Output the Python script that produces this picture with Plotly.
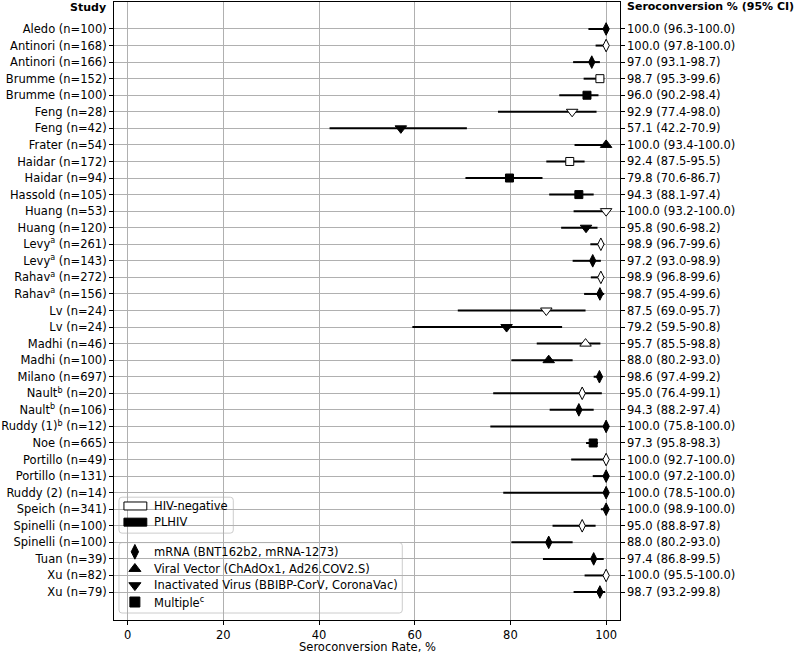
import plotly.graph_objects as go

studies = ["Aledo (n=100)", "Antinori (n=168)", "Antinori (n=166)", "Brumme (n=152)", "Brumme (n=100)",
           "Feng (n=28)", "Feng (n=42)", "Frater (n=54)", "Haidar (n=172)", "Haidar (n=94)",
           "Hassold (n=105)", "Huang (n=53)", "Huang (n=120)", "Levy<sup>a</sup> (n=261)",
           "Levy<sup>a</sup> (n=143)", "Rahav<sup>a</sup> (n=272)", "Rahav<sup>a</sup> (n=156)",
           "Lv (n=24)", "Lv (n=24)", "Madhi (n=46)", "Madhi (n=100)", "Milano (n=697)",
           "Nault<sup>b</sup> (n=20)", "Nault<sup>b</sup> (n=106)", "Ruddy (1)<sup>b</sup> (n=12)",
           "Noe (n=665)", "Portillo (n=49)", "Portillo (n=131)", "Ruddy (2) (n=14)", "Speich (n=341)",
           "Spinelli (n=100)", "Spinelli (n=100)", "Tuan (n=39)", "Xu (n=82)", "Xu (n=79)"]
rate = [100.0, 100.0, 97.0, 98.7, 96.0, 92.9, 57.1, 100.0, 92.4, 79.8, 94.3, 100.0, 95.8, 98.9, 97.2,
        98.9, 98.7, 87.5, 79.2, 95.7, 88.0, 98.6, 95.0, 94.3, 100.0, 97.3, 100.0, 100.0, 100.0, 100.0,
        95.0, 88.0, 97.4, 100.0, 98.7]
lower = [96.3, 97.8, 93.1, 95.3, 90.2, 77.4, 42.2, 93.4, 87.5, 70.6, 88.1, 93.2, 90.6, 96.7, 93.0,
         96.8, 95.4, 69.0, 59.5, 85.5, 80.2, 97.4, 76.4, 88.2, 75.8, 95.8, 92.7, 97.2, 78.5, 98.9,
         88.8, 80.2, 86.8, 95.5, 93.2]
upper = [100.0, 100.0, 98.7, 99.6, 98.4, 98.0, 70.9, 100.0, 95.5, 86.7, 97.4, 100.0, 98.2, 99.6, 98.9,
         99.6, 99.6, 95.7, 90.8, 98.8, 93.0, 99.2, 99.1, 97.4, 100.0, 98.3, 100.0, 100.0, 100.0, 100.0,
         97.8, 93.0, 99.5, 100.0, 99.8]
vaccine = ["mRNA", "mRNA", "mRNA", "Multiple", "Multiple", "Inactivated", "Inactivated", "Viral Vector",
           "Multiple", "Multiple", "Multiple", "Inactivated", "Inactivated", "mRNA", "mRNA", "mRNA", "mRNA",
           "Inactivated", "Inactivated", "Viral Vector", "Viral Vector", "mRNA", "mRNA", "mRNA", "mRNA",
           "Multiple", "mRNA", "mRNA", "mRNA", "mRNA", "mRNA", "mRNA", "mRNA", "mRNA", "mRNA"]
group = ["PLHIV", "HIV-negative", "PLHIV", "HIV-negative", "PLHIV", "HIV-negative", "PLHIV", "PLHIV",
         "HIV-negative", "PLHIV", "PLHIV", "HIV-negative", "PLHIV", "HIV-negative", "PLHIV", "HIV-negative",
         "PLHIV", "HIV-negative", "PLHIV", "HIV-negative", "PLHIV", "PLHIV", "HIV-negative", "PLHIV", "PLHIV",
         "PLHIV", "HIV-negative", "PLHIV", "PLHIV", "PLHIV", "HIV-negative", "PLHIV", "PLHIV",
         "HIV-negative", "PLHIV"]
x_ticks = [0, 20, 40, 60, 80, 100]
vaccine_labels = ["mRNA (BNT162b2, mRNA-1273)", "Viral Vector (ChAdOx1, Ad26.COV2.S)",
                  "Inactivated Virus (BBIBP-CorV, CoronaVac)", "Multiple<sup>c</sup>"]
group_labels = ["HIV-negative", "PLHIV"]

# ---- styling / layout ----
FONT = "DejaVu Sans"
W, H = 800, 654
L, R, T, B = 111, 180, 1, 34
PW, PH = W - L - R, H - T - B
sym_map = {"mRNA": "diamond-tall", "Viral Vector": "triangle-up", "Inactivated": "triangle-down",
           "Multiple": "square"}
size_map = {"mRNA": 9, "Viral Vector": 10, "Inactivated": 10, "Multiple": 8}
col_map = {"PLHIV": "black", "HIV-negative": "white"}
TXT = dict(family=FONT, size=11.5, color="black")
HDR = dict(family=FONT, size=11, color="black")


def px(x):
    return (x - L) / PW


def py(y):
    return (H - B - y) / PH


rows = list(range(len(studies)))
ci_text = [f"{r:.1f} ({lo:.1f}-{hi:.1f})" for r, lo, hi in zip(rate, lower, upper)]

fig = go.Figure()
fig.add_trace(go.Scatter(
    x=rate, y=rows, mode="markers",
    marker=dict(symbol=[sym_map[v] for v in vaccine], size=[size_map[v] for v in vaccine],
                color=[col_map[g] for g in group], opacity=1,
                line=dict(color="black", width=1)),
    error_x=dict(type="data", symmetric=False,
                 array=[u - r for u, r in zip(upper, rate)],
                 arrayminus=[r - lo for r, lo in zip(rate, lower)],
                 thickness=2, width=0, color="black"),
    showlegend=False, hoverinfo="skip"))
# right-side axis carrier (ticks only)
fig.add_trace(go.Scatter(x=[None], y=[None], yaxis="y2", showlegend=False, hoverinfo="skip"))

# legend glyphs (pixel overlay axes)
leg_y = [551.7, 568.7, 585.3, 602.0]
leg_sym = ["diamond-tall", "triangle-up", "triangle-down", "square"]
fig.add_trace(go.Scatter(x=[132] * 4, y=leg_y, xaxis="x2", yaxis="y3", mode="markers",
                         marker=dict(symbol=leg_sym, size=[10.5, 10.5, 10.5, 10], color="black",
                                     opacity=1, line=dict(color="black", width=1)),
                         showlegend=False, hoverinfo="skip"))

axis_common = dict(tickfont=TXT, tickcolor="black",
                   ticks="outside", ticklen=4, tickwidth=1, linecolor="black", linewidth=1,
                   showline=True, zeroline=False, gridcolor="#b0b0b0", gridwidth=1)

fig.update_layout(
    width=W, height=H, margin=dict(l=L, r=R, t=T, b=B),
    plot_bgcolor="white", paper_bgcolor="white",
    font=TXT,
    xaxis=dict(range=[-2.85, 102.9], tickmode="array", tickvals=x_ticks,
               ticktext=[str(t) for t in x_ticks], showgrid=True, mirror=True, **axis_common),
    yaxis=dict(range=[35.69, -1.63], tickmode="array", tickvals=rows, ticktext=studies,
               showgrid=True, **axis_common),
    yaxis2=dict(range=[35.69, -1.63], tickmode="array", tickvals=rows, ticktext=[""] * len(rows),
                overlaying="y", side="right", showgrid=False, **axis_common),
    xaxis2=dict(range=[L, W - R], overlaying="x", visible=False),
    yaxis3=dict(range=[H - B, T], overlaying="y", visible=False),
)

shapes = []


def rounded_box(x0, y0, x1, y1, r=3):
    X0, X1 = px(x0), px(x1)
    Y0, Y1 = py(y0), py(y1)
    rx, ry = r / PW, r / PH
    path = (f"M{X0 + rx},{Y0} L{X1 - rx},{Y0} Q{X1},{Y0} {X1},{Y0 - ry} "
            f"L{X1},{Y1 + ry} Q{X1},{Y1} {X1 - rx},{Y1} L{X0 + rx},{Y1} "
            f"Q{X0},{Y1} {X0},{Y1 + ry} L{X0},{Y0 - ry} Q{X0},{Y0} {X0 + rx},{Y0} Z")
    return dict(type="path", path=path, xref="paper", yref="paper",
                fillcolor="rgba(255,255,255,0.85)", line=dict(color="#cccccc", width=1),
                layer="between")


shapes.append(rounded_box(116, 497, 231, 533))
shapes.append(rounded_box(116, 542.5, 401, 613))
for yc, fc in zip([505.8, 522.0], ["white", "black"]):
    shapes.append(dict(type="rect", xref="paper", yref="paper", x0=px(121), x1=px(144),
                       y0=py(yc - 4), y1=py(yc + 4), fillcolor=fc,
                       line=dict(color="black", width=1), layer="above"))
fig.update_layout(shapes=shapes)

ann = []
# right-hand CI labels
for i, t in zip(rows, ci_text):
    ann.append(dict(x=px(625), y=i, xref="paper", yref="y", text=t, showarrow=False,
                    xanchor="left", yanchor="middle", font=TXT))
for yc, t in zip([505.8, 522.0], group_labels):
    ann.append(dict(x=px(149.5), y=py(yc), xref="paper", yref="paper", text=t, showarrow=False,
                    xanchor="left", yanchor="middle", font=TXT))
for yc, t in zip(leg_y, vaccine_labels):
    ann.append(dict(x=px(149.5), y=py(yc), xref="paper", yref="paper", text=t, showarrow=False,
                    xanchor="left", yanchor="middle", font=TXT))
ann.append(dict(x=px(105), y=py(6.7), xref="paper", yref="paper", text="<b>Study</b>",
                showarrow=False, xanchor="right", yanchor="middle", font=HDR))
ann.append(dict(x=px(625.5), y=py(5.5), xref="paper", yref="paper",
                text="<b>Seroconversion % (95% CI)</b>", showarrow=False, xanchor="left",
                yanchor="middle", font=HDR))
ann.append(dict(x=0.5, y=py(647), xref="paper", yref="paper", text="Seroconversion Rate, %",
                showarrow=False, xanchor="center", yanchor="middle", font=TXT, borderpad=0))
fig.update_layout(annotations=ann)

fig.write_html("out.html", config={"displayModeBar": False},
               post_script="document.body.style.margin='0';document.body.style.overflow='hidden';")
